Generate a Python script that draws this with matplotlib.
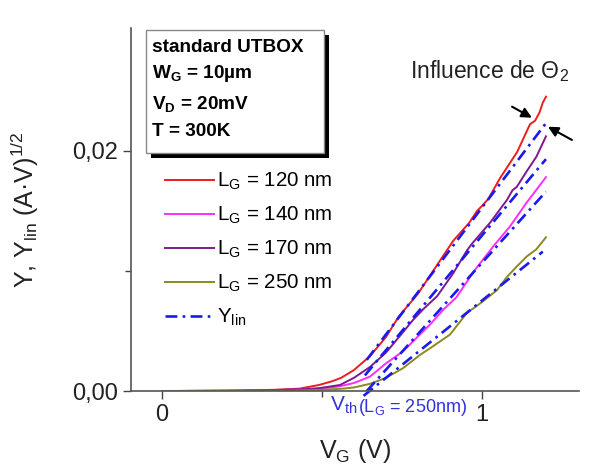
import numpy as np
import matplotlib
matplotlib.use("Agg")
import matplotlib.pyplot as plt
from matplotlib.patches import Rectangle

plt.rcParams['font.family'] = ['Liberation Sans', 'DejaVu Sans']
plt.rcParams['mathtext.fontset'] = 'custom'
plt.rcParams['mathtext.rm'] = 'Liberation Sans'
plt.rcParams['mathtext.it'] = 'Liberation Sans:italic'
plt.rcParams['mathtext.bf'] = 'Liberation Sans:bold'

# =========================
# DATA
# =========================
vg_120 = [0, 0.2, 0.35, 0.43, 0.49, 0.53, 0.56, 0.60, 0.65, 0.70, 0.74, 0.80, 0.85,
          0.91, 0.96, 0.985, 1.0, 1.02, 1.056, 1.11, 1.15, 1.166, 1.18, 1.19, 1.20]
y_120 = [0, 0.00002, 0.0001, 0.0002, 0.0005, 0.0008, 0.0011, 0.00175, 0.0029, 0.0045,
         0.0062, 0.0081, 0.0101, 0.0125, 0.0140, 0.0150, 0.0154, 0.0160, 0.0177, 0.0199,
         0.0222, 0.0225, 0.0232, 0.0240, 0.0245]

vg_140 = [0, 0.3, 0.5, 0.556, 0.6, 0.65, 0.70, 0.753, 0.806, 0.84, 0.88, 0.92, 0.953,
          0.97, 1.034, 1.0875, 1.14, 1.2]
y_140 = [0, 0.00003, 0.0002, 0.0004, 0.00067, 0.0012, 0.0023, 0.0033, 0.0047, 0.0056,
         0.0068, 0.0078, 0.0091, 0.0098, 0.0120, 0.0137, 0.0157, 0.0178]

vg_170 = [0, 0.3, 0.45, 0.494, 0.556, 0.6, 0.65, 0.70, 0.744, 0.784, 0.816, 0.86, 0.91,
          0.953, 0.97, 1.025, 1.078, 1.095, 1.109, 1.14, 1.17, 1.2]
y_170 = [0, 0.00005, 0.00015, 0.00025, 0.0005, 0.0011, 0.0020, 0.0032, 0.0046, 0.0059,
         0.0068, 0.0079, 0.0098, 0.0117, 0.0123, 0.0140, 0.0159, 0.0167, 0.0170, 0.0183,
         0.0195, 0.0212]

vg_250 = [0, 0.4, 0.5, 0.566, 0.6, 0.65, 0.70, 0.753, 0.806, 0.84, 0.9, 0.953, 1.0,
          1.047, 1.078, 1.11, 1.14, 1.17, 1.2]
y_250 = [0, 0.00003, 0.0001, 0.0002, 0.0003, 0.0006, 0.0011, 0.0019, 0.0030, 0.0036,
         0.0047, 0.0065, 0.0074, 0.0084, 0.0095, 0.0104, 0.0112, 0.0118, 0.0128]

# Y_lin straight lines: start / end points
ylin_v0 = [0.64, 0.634, 0.64, 0.63]
ylin_y0 = [0.0026, 0.0013, 0.0, -0.0004]
ylin_v1 = [1.2, 1.2, 1.2, 1.19]
ylin_y1 = [0.0223, 0.0193, 0.0166, 0.0116]

labels = ["L$_{\\rm G}$ = 120 nm", "L$_{\\rm G}$ = 140 nm",
          "L$_{\\rm G}$ = 170 nm", "L$_{\\rm G}$ = 250 nm"]
colors = ["#ee1c1c", "#ff2cff", "#7f1a8c", "#8a8a22"]
blue = "#1a1aee"

# =========================
# FIGURE
# =========================
fig = plt.figure(figsize=(5.95, 4.70), dpi=100)
ax = fig.add_axes([0.220, 0.168, 0.753, 0.772])

curves = [(vg_120, y_120), (vg_140, y_140), (vg_170, y_170), (vg_250, y_250)]
for (v, y), c, lab in zip(curves, colors, labels):
    ax.plot(v, y, color=c, lw=1.4, label=lab)

for i in range(4):
    ax.plot([ylin_v0[i], ylin_v1[i]], [ylin_y0[i], ylin_y1[i]], color=blue, lw=1.9,
            linestyle=(0, (4.5, 2, 1, 2)), clip_on=False,
            label="Y$_{\\rm lin}$" if i == 0 else None)

ax.set_xlim(-0.097, 1.303)
ax.set_ylim(0, 0.0302)
ax.set_xticks([0, 1])
ax.set_xticklabels(["0", "1"])
ax.set_xticks([0.5], minor=True)
ax.set_yticks([0, 0.02])
ax.set_yticklabels(["0,00", "0,02"])
ax.set_yticks([0.01], minor=True)
ax.tick_params(which="major", direction="out", length=6, width=1, labelsize=17,
               color="#444444", labelcolor="#222222")
ax.tick_params(which="minor", direction="out", length=4, width=1, color="#444444")
for s in ["top", "right"]:
    ax.spines[s].set_visible(False)
for s in ["left", "bottom"]:
    ax.spines[s].set_color("#555555")
    ax.spines[s].set_linewidth(1.2)

ax.set_xlabel("V$_{\\rm G}$ (V)", fontsize=18, color="#222222", labelpad=8)
ax.set_ylabel("Y, Y$_{\\rm lin}$ (A·V)$^{1/2}$", fontsize=18, color="#222222", labelpad=22)

leg = ax.legend(loc="upper left", bbox_to_anchor=(165 / 595, 1 - 171 / 470),
                bbox_transform=fig.transFigure, frameon=False, fontsize=14.8,
                handlelength=2.4, handletextpad=0.15, labelspacing=0.62,
                borderpad=0, borderaxespad=0)

# info box with shadow
fig.patches.append(Rectangle((151 / 595, 1 - 158 / 470), 178 / 595, 123 / 470,
                             transform=fig.transFigure, facecolor="black",
                             edgecolor="none", zorder=5))
fig.patches.append(Rectangle((146 / 595, 1 - 153 / 470), 178 / 595, 123 / 470,
                             transform=fig.transFigure, facecolor="white",
                             edgecolor="#888888", lw=1, zorder=6))
info = ["standard UTBOX", "W$_{\\bf G}$ = 10µm", "V$_{\\bf D}$ = 20mV", "T = 300K"]
info_y = [48, 74, 104, 132]
for t, yy in zip(info, info_y):
    fig.text(152 / 595, 1 - yy / 470, t, fontsize=13.7, fontweight="bold",
             va="center", ha="left", zorder=7)

# annotations
ax.text(1.025, 0.0266, "Influence de Θ$_2$", fontsize=16.5, ha="center", va="center",
        color="#222222")
ax.annotate("", xy=(1.156, 0.02275), xytext=(1.094, 0.02367),
            arrowprops=dict(arrowstyle="-|>", color="black", lw=1.5,
                            mutation_scale=15, shrinkA=0, shrinkB=0))
ax.annotate("", xy=(1.206, 0.0220), xytext=(1.281, 0.0209),
            arrowprops=dict(arrowstyle="-|>", color="black", lw=1.5,
                            mutation_scale=15, shrinkA=0, shrinkB=0))

ax.text(0.525, -0.0003, "V$_{\\rm th}$", fontsize=15, color="#3333dd",
        ha="left", va="top", clip_on=False)
ax.text(0.613, -0.0005, "(L$_{\\rm G}$ = 250nm)", fontsize=13, color="#3333dd",
        ha="left", va="top", clip_on=False)

fig.savefig("out.png", dpi=100)
